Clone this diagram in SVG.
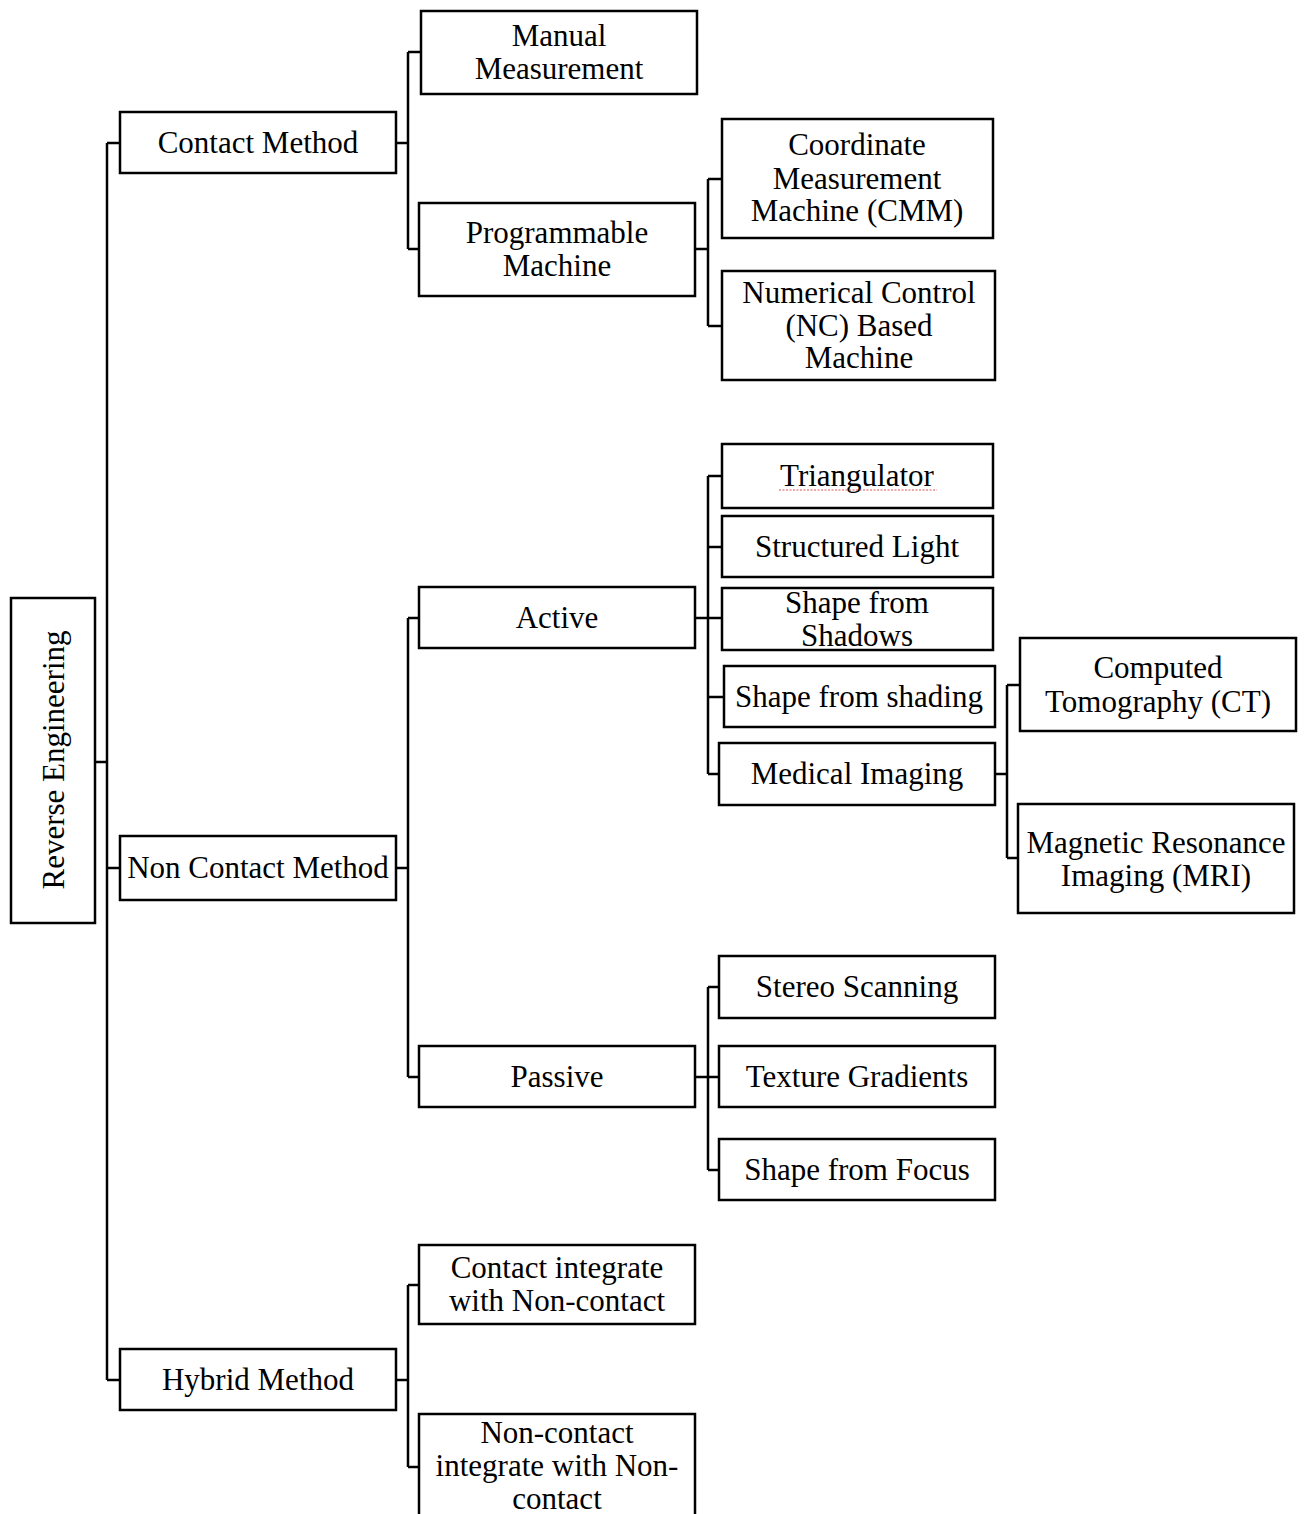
<svg xmlns="http://www.w3.org/2000/svg" width="1306" height="1514" viewBox="0 0 1306 1514">
<style>
.box{fill:#fff;stroke:#000;stroke-width:2.5}
.t{font-family:'Liberation Serif','Times New Roman','DejaVu Serif',Times,serif;font-size:31px;fill:#000;text-anchor:middle}
.c{fill:none;stroke:#000;stroke-width:2.5}
</style>
<rect width="1306" height="1514" fill="#fff"/>
<g id="connectors">
<path class="c" d="M95 762H107M107 143V1380M107 143H120M107 868H120M107 1380H120"/>
<path class="c" d="M396 143H408M408 52V249M408 52H421M408 249H419"/>
<path class="c" d="M695 249H708M708 179V326M708 179H722M708 326H722"/>
<path class="c" d="M396 868H408M408 618V1077M408 618H419M408 1077H419"/>
<path class="c" d="M695 618H708M708 476V774M708 476H722M708 547H722M708 618H722M708 697H724M708 774H719"/>
<path class="c" d="M995 774H1007M1007 685V858M1007 685H1020M1007 858H1018"/>
<path class="c" d="M695 1077H708M708 987V1170M708 987H719M708 1077H719M708 1170H719"/>
<path class="c" d="M396 1380H408M408 1285V1467M408 1285H419M408 1467H419"/>
</g>
<g id="n-re"><rect class="box" x="11" y="598" width="84" height="325"/><text class="t" transform="translate(64 760) rotate(-90)">Reverse Engineering</text></g>
<g id="n-contact"><rect class="box" x="120" y="112" width="276" height="61"/><text class="t" x="258" y="153">Contact Method</text></g>
<g id="n-manual"><rect class="box" x="421" y="11" width="276" height="83"/><text class="t" x="559" y="46">Manual</text><text class="t" x="559" y="79">Measurement</text></g>
<g id="n-prog"><rect class="box" x="419" y="203" width="276" height="93"/><text class="t" x="557" y="243">Programmable</text><text class="t" x="557" y="276">Machine</text></g>
<g id="n-cmm"><rect class="box" x="722" y="119" width="271" height="119"/><text class="t" x="857" y="155">Coordinate</text><text class="t" x="857" y="189">Measurement</text><text class="t" x="857" y="221">Machine (CMM)</text></g>
<g id="n-nc"><rect class="box" x="722" y="271" width="273" height="109"/><text class="t" x="859" y="303">Numerical Control</text><text class="t" x="859" y="336">(NC) Based</text><text class="t" x="859" y="368">Machine</text></g>
<g id="n-noncontact"><rect class="box" x="120" y="836" width="276" height="64"/><text class="t" x="258" y="878">Non Contact Method</text></g>
<g id="n-active"><rect class="box" x="419" y="587" width="276" height="61"/><text class="t" x="557" y="628">Active</text></g>
<g id="n-tri"><rect class="box" x="722" y="444" width="271" height="64"/><text class="t" x="857" y="486">Triangulator</text><path d="M779 490H937" stroke="#e05050" stroke-width="1.2" stroke-dasharray="2 1.5" fill="none"/></g>
<g id="n-struct"><rect class="box" x="722" y="516" width="271" height="61"/><text class="t" x="857" y="557">Structured Light</text></g>
<g id="n-shadows"><rect class="box" x="722" y="588" width="271" height="62"/><text class="t" x="857" y="613">Shape from</text><text class="t" x="857" y="646">Shadows</text></g>
<g id="n-shading"><rect class="box" x="724" y="666" width="271" height="61"/><text class="t" x="859" y="707">Shape from shading</text></g>
<g id="n-medical"><rect class="box" x="719" y="743" width="276" height="62"/><text class="t" x="857" y="784">Medical Imaging</text></g>
<g id="n-ct"><rect class="box" x="1020" y="638" width="276" height="93"/><text class="t" x="1158" y="678">Computed</text><text class="t" x="1158" y="712">Tomography (CT)</text></g>
<g id="n-mri"><rect class="box" x="1018" y="804" width="276" height="109"/><text class="t" x="1156" y="853">Magnetic Resonance</text><text class="t" x="1156" y="886">Imaging (MRI)</text></g>
<g id="n-passive"><rect class="box" x="419" y="1046" width="276" height="61"/><text class="t" x="557" y="1087">Passive</text></g>
<g id="n-stereo"><rect class="box" x="719" y="956" width="276" height="62"/><text class="t" x="857" y="997">Stereo Scanning</text></g>
<g id="n-texture"><rect class="box" x="719" y="1046" width="276" height="61"/><text class="t" x="857" y="1087">Texture Gradients</text></g>
<g id="n-focus"><rect class="box" x="719" y="1139" width="276" height="61"/><text class="t" x="857" y="1180">Shape from Focus</text></g>
<g id="n-hybrid"><rect class="box" x="120" y="1349" width="276" height="61"/><text class="t" x="258" y="1390">Hybrid Method</text></g>
<g id="n-cinc"><rect class="box" x="419" y="1245" width="276" height="79"/><text class="t" x="557" y="1278">Contact integrate</text><text class="t" x="557" y="1311">with Non-contact</text></g>
<g id="n-ncinc"><rect class="box" x="419" y="1414" width="276" height="120"/><text class="t" x="557" y="1443">Non-contact</text><text class="t" x="557" y="1476">integrate with Non-</text><text class="t" x="557" y="1509">contact</text></g>
</svg>
